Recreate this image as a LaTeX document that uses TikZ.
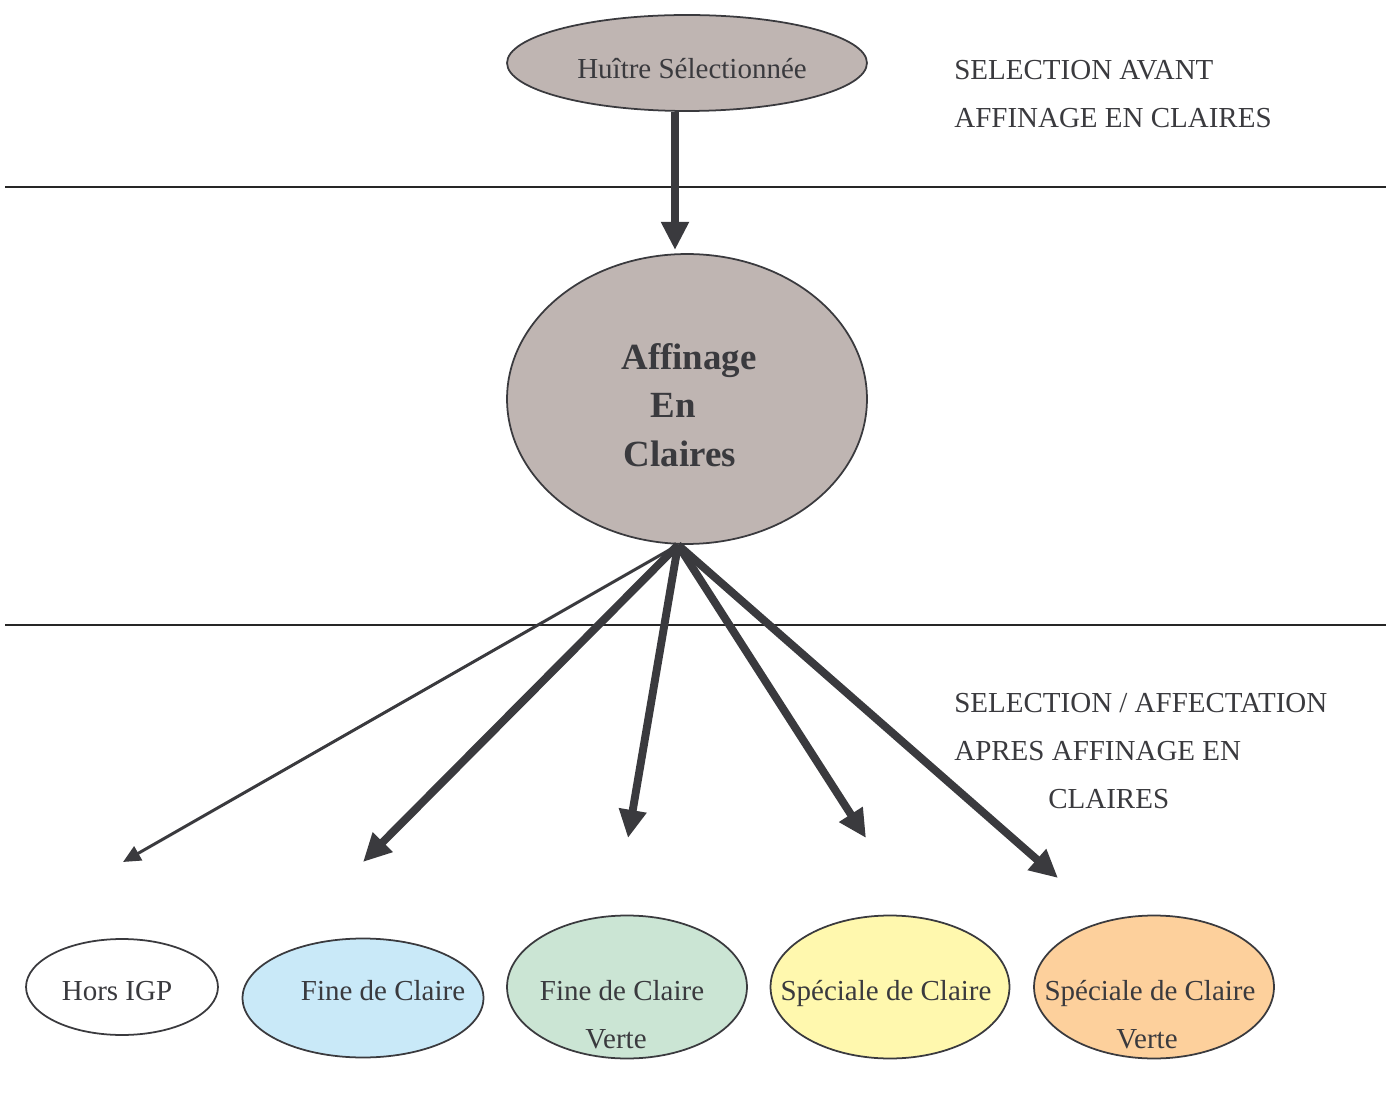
\documentclass[tikz,border=0pt]{standalone}
\usepackage{fontspec}
\setmainfont{Liberation Serif}
\usetikzlibrary{shapes.geometric,arrows.meta}

\definecolor{taupe}{HTML}{BFB5B2}
\definecolor{inkgrey}{HTML}{3A3A3E}
\definecolor{fineblue}{HTML}{C9E9F8}
\definecolor{finegreen}{HTML}{CBE5D4}
\definecolor{specyellow}{HTML}{FFF8AE}
\definecolor{specorange}{HTML}{FDD09C}

\tikzset{
  oval/.style={ellipse, draw=inkgrey, line width=1pt, inner sep=0pt},
  lbl/.style={text=inkgrey, font=\fontsize{16.5}{20}\selectfont, inner sep=0pt, anchor=base},
  bold lbl/.style={lbl, font=\fontsize{21}{25}\selectfont\bfseries},
  bigarrow/.style={draw=inkgrey, line width=4.5pt, -{Triangle[length=16pt,width=15pt]}},
  thinarrow/.style={draw=inkgrey, line width=1.7pt, -{Triangle[length=10pt,width=9pt]}},
  rule/.style={draw=black!85, line width=0.8pt}
}

\begin{document}
\begin{tikzpicture}[x=0.02cm,y=-0.02cm]
		\useasboundingbox (0,0) rectangle (1386,1104);

		% steps separated by two rules
		\draw[rule] (5,187) -- (1386,187);
		\draw[rule] (5,625) -- (1386,625);

		% selected oyster and refining pond
		\node[oval, fill=taupe, minimum width=7.2cm, minimum height=1.92cm] (sel) at (687,63) {};
		\node[lbl] (sel-t) at (692,79) {Huître Sélectionnée};

		\node[oval, fill=taupe, minimum width=7.2cm, minimum height=5.8cm] (aff) at (687,399) {};
		\node[bold lbl] (aff-t1) at (689,370) {Affinage};
		\node[bold lbl] (aff-t2) at (673,418) {En};
		\node[bold lbl] (aff-t3) at (680,467) {Claires};

		\coordinate (top) at (675,250);
		\draw[bigarrow] (sel.south -| top) -- (top);

		% step labels on the right
		\node[lbl, anchor=base west] (step1a) at (954,80) {SELECTION AVANT};
		\node[lbl, anchor=base west] (step1b) at (954,128) {AFFINAGE EN CLAIRES};
		\node[lbl, anchor=base west] (step2a) at (954,712) {SELECTION / AFFECTATION};
		\node[lbl, anchor=base west] (step2b) at (954,760) {APRES AFFINAGE EN};
		\node[lbl, anchor=base west] (step2c) at (1048,808) {CLAIRES};

		% fan of arrows out of the pond
		\coordinate (hub) at (678,545);
		\coordinate (to-hors) at (123,862);
		\coordinate (to-fine) at (363,862);
		\coordinate (to-finev) at (628,838);
		\coordinate (to-spec) at (866,838);
		\coordinate (to-specv) at (1058,878);
		\draw[thinarrow] (hub) -- (to-hors);
		\draw[bigarrow] (hub) -- (to-fine);
		\draw[bigarrow] (hub) -- (to-finev);
		\draw[bigarrow] (hub) -- (to-spec);
		\draw[bigarrow] (hub) -- (to-specv);

		% outcomes
		\node[oval, fill=white, minimum width=3.84cm, minimum height=1.92cm] (hors) at (122,987) {};
		\node[lbl] (hors-t) at (117,1000) {Hors IGP};

		\node[oval, fill=fineblue, minimum width=4.82cm, minimum height=2.38cm] (fine) at (363,998) {};
		\node[lbl] (fine-t) at (383,1000) {Fine de Claire};

		\node[oval, fill=finegreen, minimum width=4.8cm, minimum height=2.86cm] (finev) at (627,987) {};
		\node[lbl] (finev-t1) at (622,1000) {Fine de Claire};
		\node[lbl] (finev-t2) at (616,1048) {Verte};

		\node[oval, fill=specyellow, minimum width=4.78cm, minimum height=2.86cm] (spec) at (890,987) {};
		\node[lbl] (spec-t) at (886,1000) {Spéciale de Claire};

		\node[oval, fill=specorange, minimum width=4.8cm, minimum height=2.86cm] (specv) at (1154,987) {};
		\node[lbl] (specv-t1) at (1150,1000) {Spéciale de Claire};
		\node[lbl] (specv-t2) at (1147,1048) {Verte};

	\end{tikzpicture}
\end{document}
